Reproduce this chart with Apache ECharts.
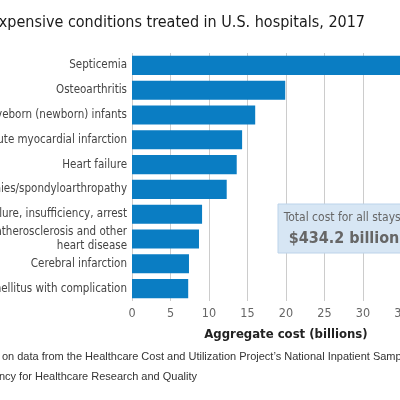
<!DOCTYPE html>
<html><head><meta charset="utf-8">
<script src="https://cdn.jsdelivr.net/npm/echarts@6/dist/echarts.min.js"></script>
<style>html,body{margin:0;padding:0;background:#fff}#c{width:400px;height:400px}</style>
</head><body><div id="c"></div>
<script>
const categories = [
  "Septicemia",
  "Osteoarthritis",
  "Liveborn (newborn) infants",
  "Acute myocardial infarction",
  "Heart failure",
  "Spondylopathies/spondyloarthropathy",
  "Respiratory failure, insufficiency, arrest",
  "Coronary atherosclerosis and other\nheart disease",
  "Cerebral infarction",
  "Diabetes mellitus with complication"
];
const costs = [38.2, 19.9, 16.0, 14.3, 13.6, 12.3, 9.1, 8.7, 7.4, 7.3];
const titleText = "Most expensive conditions treated in U.S. hospitals, 2017";
const totalLabel = "Total cost for all stays:";
const totalValue = "$434.2 billion";
const footer1 = "Note: Based on data from the Healthcare Cost and Utilization Project\u2019s National Inpatient Sample.";
const footer2 = "Source: Agency for Healthcare Research and Quality";

const COND = '"Liberation Sans Narrow","DejaVu Sans Condensed","Roboto Condensed",sans-serif';
const SANS = '"Liberation Sans",Arial,sans-serif';

function measure(text, font){
  const cv = document.createElement('canvas').getContext('2d');
  cv.font = font; return cv.measureText(text).width;
}
const f2w = measure(footer2, '11px ' + SANS);
const footLeft = 197 - f2w;

const chart = echarts.init(document.getElementById('c'));
chart.setOption({
  animation: false,
  grid: {left: 132, right: -40, top: 53, bottom: 99, containLabel: false, outerBoundsMode: 'none'},
  xAxis: {
    type: 'value', min: 0, max: 40, interval: 5,
    axisLine: {show: false}, axisTick: {show: false},
    splitLine: {show: true, lineStyle: {color: '#cccccc', width: 1}},
    axisLabel: {color: '#666', fontSize: 12.5, fontFamily: COND, margin: 6},
    name: 'Aggregate cost (billions)', nameLocation: 'middle', nameGap: 27,
    nameTextStyle: {color: '#222', fontSize: 13, fontFamily: COND, fontWeight: 'bold'}
  },
  yAxis: {
    type: 'category', data: categories, inverse: true,
    axisLine: {show: false}, axisTick: {show: false},
    axisLabel: {color: '#444', fontSize: 11.5, fontFamily: COND, margin: 5, lineHeight: 14, align: 'right'}
  },
  series: [{
    type: 'bar', data: costs, barCategoryGap: '23%',
    itemStyle: {color: '#0a7dc3'}
  }],
  graphic: [
    {type: 'text', x: 365, y: 23, style: {text: titleText, fill: '#1a1a1a', font: '16px ' + COND, textAlign: 'right', textVerticalAlign: 'middle'}},
    {type: 'rect', x: 278, y: 204, shape: {width: 140, height: 49}, style: {fill: '#d7e6f4', stroke: '#bcd3ea', lineWidth: 1}, z: 10},
    {type: 'text', x: 344, y: 218, z: 11, style: {text: totalLabel, fill: '#666', font: '12px ' + COND, textAlign: 'center', textVerticalAlign: 'middle'}},
    {type: 'text', x: 344, y: 239, z: 11, style: {text: totalValue, fill: '#666', font: 'bold 16px ' + COND, textAlign: 'center', textVerticalAlign: 'middle'}},
    {type: 'text', x: footLeft, y: 357, style: {text: footer1, fill: '#333', font: '11px ' + SANS, textVerticalAlign: 'middle'}},
    {type: 'text', x: footLeft, y: 377, style: {text: footer2, fill: '#333', font: '11px ' + SANS, textVerticalAlign: 'middle'}}
  ]
});
</script></body></html>
